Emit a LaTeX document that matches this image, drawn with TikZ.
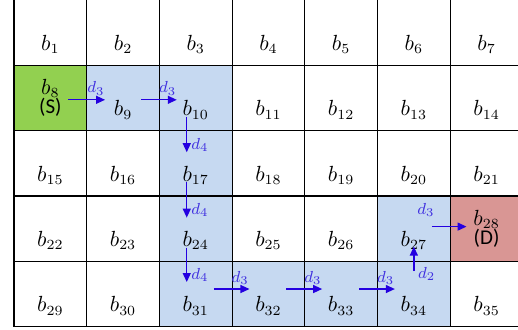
\documentclass[tikz,border=0pt]{standalone}
\usepackage{fontspec}
\newfontfamily\calibfont{Carlito}
\usetikzlibrary{calc, arrows.meta, backgrounds}
\definecolor{Srccolor}{RGB}{146,208,80}
\definecolor{Dstcolor}{RGB}{217,150,148}
\definecolor{Pathcolor}{RGB}{198,217,241}
\definecolor{Hopcolor}{RGB}{36,0,224}
\definecolor{Dcolor}{RGB}{64,48,224}

\begin{document}
\begin{tikzpicture}[x=0.5pt, y=-0.5pt,
  cell/.style={rectangle, draw=black, line width=0.6pt,
               minimum width=36.35pt, minimum height=32.7pt,
               inner sep=0pt, outer sep=0pt},
  blbl/.style={inner sep=0.5pt, font=\fontsize{10.5}{12}\selectfont},
  ends/.style={align=center, inner sep=0.5pt,
               font=\fontsize{10.5}{12}\selectfont},
  hop/.style={-{Triangle[length=4.5pt, width=4pt]}, line width=0.65pt,
              color=Hopcolor},
  dlbl/.style={inner sep=0.5pt, text=Dcolor,
               font=\fontsize{8.5}{10}\selectfont}
]
\useasboundingbox (0,0) rectangle (518,329);

%% ─── Rejilla de bloques ─────────────────────────────────────
\foreach \r in {1,...,5}
  \foreach \c in {1,...,7} {
    \pgfmathtruncatemacro{\n}{7*(\r-1)+\c}
    \node[cell] (c\n) at ({50.35+72.7*(\c-1)}, {32.4+65.4*(\r-1)}) {};
  }

\foreach \n in {1,...,7,9,10,...,27,29,30,...,35}
  \node[blbl] (b\n) at ($(c\n)+(0,12)$) {$b_{\n}$};

\node[ends] (b8)  at (c8)  {$b_{8}$\\[-2.5pt]{\calibfont (S)}};
\node[ends] (b28) at (c28) {$b_{28}$\\[-2.5pt]{\calibfont (D)}};

%% ─── Ruta S -> D ────────────────────────────────────────────
\draw[hop] ($(b8)+(18,2)$) --
    node[dlbl, at end, anchor=south east, xshift=0.5pt, yshift=1.5pt]{$d_3$}
    ($(b9)+(-18,-10)$);
\draw[hop] ($(b9)+(18,-10)$) --
    node[dlbl, at end, anchor=south east, xshift=0.5pt, yshift=1.5pt]{$d_3$}
    ($(b10)+(-19,-10)$);
\draw[hop] ($(b10)+(-9,7)$) --
    node[dlbl, at end, anchor=south west, xshift=1.5pt, yshift=-0.5pt]{$d_4$}
    ($(b17)+(-9,-23)$);
\draw[hop] ($(b17)+(-9,7)$) --
    node[dlbl, at end, anchor=south west, xshift=1.5pt, yshift=-0.5pt]{$d_4$}
    ($(b24)+(-9,-23)$);
\draw[hop] ($(b24)+(-9,7)$) --
    node[dlbl, at end, anchor=south west, xshift=1.5pt, yshift=-0.5pt]{$d_4$}
    ($(b31)+(-9,-24)$);
\draw[hop] ($(b31)+(18,-17)$) --
    node[dlbl, at end, anchor=south east, xshift=0.5pt, yshift=1.5pt]{$d_3$}
    ($(b32)+(-19,-17)$);
\draw[hop] ($(b32)+(18,-17)$) --
    node[dlbl, at end, anchor=south east, xshift=0.5pt, yshift=1.5pt]{$d_3$}
    ($(b33)+(-19,-17)$);
\draw[hop] ($(b33)+(18,-17)$) --
    node[dlbl, at end, anchor=south east, xshift=0.5pt, yshift=1.5pt]{$d_3$}
    ($(b34)+(-19,-17)$);
\draw[hop] ($(b34)+(0,-35)$) --
    node[dlbl, at start, anchor=west, xshift=1.25pt, yshift=-1.5pt]{$d_2$}
    ($(b27)+(0,6)$);
\draw[hop] ($(b27)+(18,-14)$) --
    node[dlbl, at start, anchor=south, xshift=-3pt, yshift=4pt]{$d_3$}
    ($(b28)+(-20,-2)$);

%% ─── Fondos de bloques ──────────────────────────────────────
\begin{pgfonlayer}{background}
  \foreach \k in {9,10,17,24,27,31,32,33,34}
    \fill[Pathcolor] (c\k.south west) rectangle (c\k.north east);
  \fill[Srccolor] (c8.south west) rectangle (c8.north east);
  \fill[Dstcolor] (c28.south west) rectangle (c28.north east);
\end{pgfonlayer}

\end{tikzpicture}
\end{document}
